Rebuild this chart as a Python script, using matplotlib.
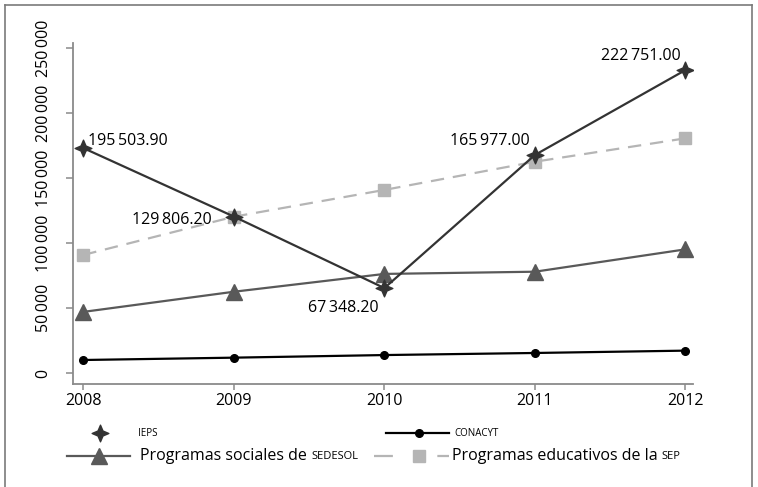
import matplotlib
matplotlib.use("Agg")
import matplotlib.pyplot as plt
from matplotlib.path import Path
from matplotlib.lines import Line2D

plt.rcParams['font.family'] = ['Open Sans', 'DejaVu Sans']

TS = '\u2009'
years = [2008, 2009, 2010, 2011, 2012]
ieps = [173000, 120300, 65300, 167700, 233000]
ieps_labels = ["195" + TS + "503.90", "129" + TS + "806.20", "67" + TS + "348.20",
               "165" + TS + "977.00", "222" + TS + "751.00"]
conacyt = [10000, 11800, 13800, 15400, 17200]
sedesol = [47000, 62500, 76200, 77900, 95100]
sep = [90800, 120200, 140800, 162500, 180500]
yticks = [0, 50000, 100000, 150000, 200000, 250000]
ytick_labels = ["0", "50" + TS + "000", "100" + TS + "000", "150" + TS + "000",
                "200" + TS + "000", "250" + TS + "000"]
legend_names = ["IEPS", "CONACYT", "Programas sociales de ", "SEDESOL",
                "Programas educativos de la ", "SEP"]

W, H = 758, 487
fig = plt.figure(figsize=(W / 100, H / 100), dpi=100)

def fx(x):
    return x / W

def fy(y):
    return 1 - y / H

ax = fig.add_axes([fx(72.5), fy(384), fx(693) - fx(72.5), fy(43) - fy(384)])

s = 0.3
star = Path([(0, 1), (s, s), (1, 0), (s, -s), (0, -1), (-s, -s), (-1, 0), (-s, s), (0, 1)],
            [Path.MOVETO] + [Path.LINETO] * 7 + [Path.CLOSEPOLY])

c_ieps, c_con, c_sed, c_sep = '#333333', '#000000', '#595959', '#b5b5b5'

ax.plot(years, sep, color=c_sep, lw=1.6, dashes=(6, 4), marker='s', ms=8,
        mfc=c_sep, mec=c_sep, zorder=2)
ax.plot(years, sedesol, color=c_sed, lw=1.6, marker='^', ms=11,
        mfc=c_sed, mec=c_sed, zorder=3)
ax.plot(years, conacyt, color=c_con, lw=1.6, marker='o', ms=5.5,
        mfc=c_con, mec=c_con, zorder=3)
ax.plot(years, ieps, color=c_ieps, lw=1.6, marker=star, ms=12,
        mfc=c_ieps, mec=c_ieps, zorder=4)

offsets = [(5, 7, 'left'), (-22, -3, 'right'), (-41, -20, 'center'),
           (-5, 14, 'right'), (-5, 14, 'right')]
for x, y, lab, (dx, dy, ha) in zip(years, ieps, ieps_labels, offsets):
    ax.annotate(lab, (x, y), xytext=(dx, dy), textcoords='offset pixels',
                ha=ha, va='center', fontsize=11.5, color='black', zorder=5)

ax.set_xlim(2007.928, 2012.05)
ax.set_ylim(-8460, 253800)
ax.set_xticks(years)
ax.set_xticklabels([str(y) for y in years], fontsize=11.5)
ax.set_yticks(yticks)
ax.set_yticklabels(ytick_labels, fontsize=11.5, rotation=90, va='center')

for side in ['top', 'right']:
    ax.spines[side].set_visible(False)
for side in ['left', 'bottom']:
    ax.spines[side].set_color('#8a8a8a')
    ax.spines[side].set_linewidth(1.3)
ax.tick_params(axis='x', colors='#8a8a8a', labelcolor='black', length=4.5, width=1.1, pad=2)
ax.tick_params(axis='y', colors='#8a8a8a', labelcolor='black', length=5, width=1.1, pad=10)

# outer frame
fc = '#7a7a7a'
fig.add_artist(Line2D([fx(5), fx(5)], [fy(5), 0], transform=fig.transFigure, color=fc, lw=1.2))
fig.add_artist(Line2D([fx(5), fx(751.5)], [fy(5), fy(5)], transform=fig.transFigure, color=fc, lw=1.2))
fig.add_artist(Line2D([fx(751.5), fx(751.5)], [fy(5), 0], transform=fig.transFigure, color=fc, lw=1.2))

# legend (manual)
r1, r2 = 433, 456
fig.add_artist(Line2D([fx(100)], [fy(r1)], transform=fig.transFigure, ls='none',
                      marker=star, ms=12, mfc=c_ieps, mec=c_ieps))
fig.text(fx(138), fy(r1), legend_names[0], fontsize=7, va='center', ha='left')
fig.add_artist(Line2D([fx(386), fx(449)], [fy(r1), fy(r1)], transform=fig.transFigure,
                      color=c_con, lw=1.6))
fig.add_artist(Line2D([fx(419)], [fy(r1)], transform=fig.transFigure, ls='none',
                      marker='o', ms=5.5, mfc=c_con, mec=c_con))
fig.text(fx(454), fy(r1), legend_names[1], fontsize=7, va='center', ha='left')
fig.add_artist(Line2D([fx(67), fx(130)], [fy(r2), fy(r2)], transform=fig.transFigure,
                      color=c_sed, lw=1.6))
fig.add_artist(Line2D([fx(99)], [fy(r2)], transform=fig.transFigure, ls='none',
                      marker='^', ms=11, mfc=c_sed, mec=c_sed))
fig.add_artist(Line2D([fx(374), fx(449)], [fy(r2), fy(r2)], transform=fig.transFigure,
                      color=c_sep, lw=1.6, dashes=(8.5, 20)))
fig.add_artist(Line2D([fx(419)], [fy(r2)], transform=fig.transFigure, ls='none',
                      marker='s', ms=8, mfc=c_sep, mec=c_sep))

renderer = fig.canvas.get_renderer()
t1 = fig.text(fx(140), fy(r2), legend_names[2], fontsize=11.5, va='center', ha='left')
w1 = t1.get_window_extent(renderer).width
fig.text(fx(140 + w1), fy(r2) - 0.002, legend_names[3], fontsize=8, va='center', ha='left')
t2 = fig.text(fx(452), fy(r2), legend_names[4], fontsize=11.5, va='center', ha='left')
w2 = t2.get_window_extent(renderer).width
fig.text(fx(452 + w2), fy(r2) - 0.002, legend_names[5], fontsize=8, va='center', ha='left')

fig.savefig('out.png', dpi=100)
